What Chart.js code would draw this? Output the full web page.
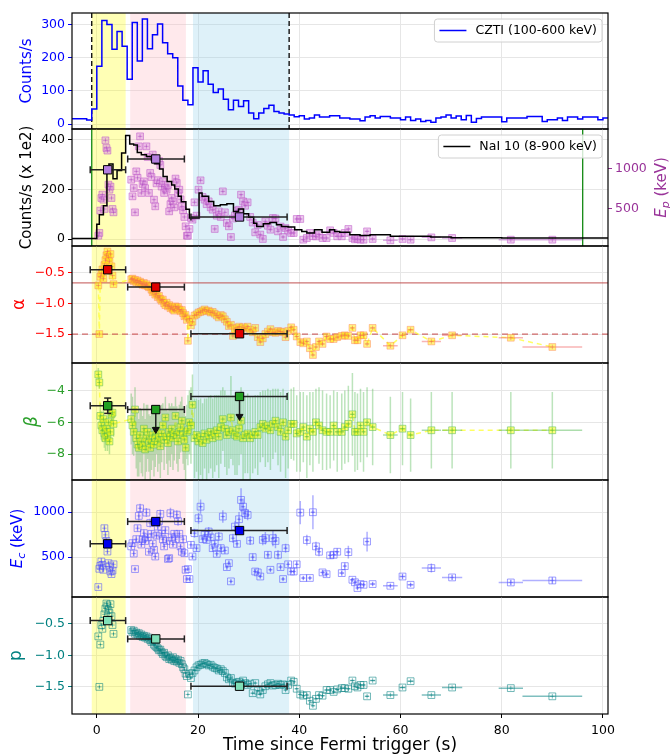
<!DOCTYPE html>
<html lang="en">
<head>
<meta charset="UTF-8">
<title>Spectral evolution panels</title>
<script src="https://cdn.jsdelivr.net/npm/chart.js@4.4.1/dist/chart.umd.min.js"></script>
<style>
  body { margin: 0; background: #fff; }
  #wrap { position: relative; width: 670px; height: 755px; overflow: hidden; background: #fff; }
  #wrap canvas { position: absolute; left: 0; }
</style>
</head>
<body>
<div id="wrap">
  <canvas id="pCzti"></canvas>
  <canvas id="pNai"></canvas>
  <canvas id="pAlpha"></canvas>
  <canvas id="pBeta"></canvas>
  <canvas id="pEc"></canvas>
  <canvas id="pP"></canvas>
</div>
<script>
// ---------------- data ----------------
const xTicks = [0, 20, 40, 60, 80, 100];
const xTitle = 'Time since Fermi trigger (s)';

// shaded intervals (s)
const regionStart = [-1.0, 6.6, 19.0];
const regionEnd = [5.7, 17.6, 38.0];

// CZTI light curve, 1 s bins starting at -5 s
const cztiFirstBin = -5;
const cztiBinWidth = 1;
const cztiCounts = [16, 16, 16, 12, 45, 174, 312, 300, 226, 279, 235, 135, 306, 190, 317, 227, 269, 302, 245, 212,
  200, 115, 72, 58, 170, 127, 161, 120, 95, 106, 75, 43, 72, 53, 70, 33, 16, 33, 47, 57,
  38, 33, 30, 27, 22, 25, 15, 18, 27, 21, 21, 25, 25, 18, 18, 15, 15, 10, 21, 25,
  18, 23, 23, 18, 18, 13, 21, 11, 15, 8, 11, 5, 18, 21, 27, 18, 24, 13, 26, 5,
  17, 21, 21, 21, 21, 7, 18, 18, 18, 18, 23, 23, 23, 8, 13, 13, 18, 11, 21, 21,
  15, 21, 21, 21, 13, 18];
const cztiTicks = [0, 100, 200, 300];
const cztiMarks = [-1, 38];

// NaI 10 light curve (x 1e2), bin starts
const naiStart = [-5, 0, 0.5, 1.3, 2.0, 2.4, 3.2, 4.0, 4.9, 5.7, 6.5, 7.3, 8.0, 8.8, 9.8, 10.8, 11.4, 12.4, 13.1, 13.9,
  14.8, 15.4, 16.1, 16.7, 17.6, 18.3, 20.2, 20.8, 22.1, 23.1, 24.4, 25.7, 27.0, 28.0, 29.0, 30.0, 31.0, 31.6, 32.9, 34.2,
  35.5, 36.5, 37.8, 39.1, 40.5, 41.5, 43.0, 44.5, 46.0, 47.0, 48.0, 50.0, 52.0, 54.0, 56.0, 58.0, 62.0, 66.0, 70.0, 80.0, 90.0];
const naiCounts = [2, 60, 98, 134, 265, 302, 243, 276, 346, 417, 383, 379, 348, 339, 332, 316, 303, 282, 252, 232,
  218, 201, 172, 150, 120, 85, 185, 172, 151, 134, 138, 142, 111, 121, 102, 88, 64, 51, 62, 67,
  58, 51, 48, 37, 30, 24, 37, 27, 37, 30, 27, 17, 14, 17, 17, 11, 11, 8, 5, 4, 4];
const naiEnd = 101;
const naiTicks = [0, 200, 400];
const naiMarks = [-1, 96];

// time-resolved spectral fits
const tMid = [
  0.3, 0.5, 0.7, 0.9, 1.1, 1.3, 1.5, 1.7, 1.9, 2.1, 2.3, 2.5, 2.7, 2.9, 3.1, 3.3,
  6.8, 7.05, 7.3, 7.55, 7.8, 8.05, 8.3, 8.55, 8.8, 9.05, 9.3, 9.55, 9.8, 10.05, 10.3, 10.55, 10.8, 11.05, 11.3, 11.55,
  11.8, 12.05, 12.3, 12.55, 12.8, 13.05, 13.3, 13.55, 13.8, 14.05, 14.3, 14.55, 14.8, 15.05, 15.3, 15.55, 15.8, 16.05, 16.3, 16.55,
  16.8, 17.05, 17.3, 17.55, 17.8,
  18.0, 18.3, 18.6, 18.9, 19.3, 19.7, 20.1, 20.5, 20.9, 21.3, 21.7, 22.1, 22.5, 22.9, 23.3, 23.7, 24.1, 24.5, 24.9, 25.3,
  25.7, 26.1, 26.5, 26.9, 27.3, 27.7, 28.1, 28.5, 28.9, 29.3, 29.8, 30.3, 30.8, 31.3, 31.8, 32.3, 32.8, 33.3, 33.8, 34.3,
  34.8, 35.3, 35.8, 36.3, 36.8, 37.3, 37.8, 38.4,
  38.9, 39.5, 40.2, 40.8, 41.5, 42.1, 42.7, 43.3, 43.9, 44.6, 45.4, 46.1, 46.8, 47.5, 48.4, 49.0, 49.7, 50.5, 51.0, 51.5,
  52.1, 52.7, 53.4, 54.5, 58.0, 60.4, 62.0, 66.1, 70.2, 81.8, 90.0];
const tErr = [
  0.1, 0.1, 0.1, 0.1, 0.1, 0.1, 0.1, 0.1, 0.1, 0.1, 0.1, 0.1, 0.1, 0.1, 0.1, 0.1,
  0.12, 0.12, 0.12, 0.12, 0.12, 0.12, 0.12, 0.12, 0.12, 0.12, 0.12, 0.12, 0.12, 0.12, 0.12, 0.12, 0.12, 0.12, 0.12, 0.12,
  0.12, 0.12, 0.12, 0.12, 0.12, 0.12, 0.12, 0.12, 0.12, 0.12, 0.12, 0.12, 0.12, 0.12, 0.12, 0.12, 0.12, 0.12, 0.12, 0.12,
  0.12, 0.12, 0.12, 0.12, 0.12,
  0.15, 0.15, 0.15, 0.2, 0.2, 0.2, 0.2, 0.2, 0.2, 0.2, 0.2, 0.2, 0.2, 0.2, 0.2, 0.2, 0.2, 0.2, 0.2, 0.2,
  0.2, 0.2, 0.2, 0.2, 0.2, 0.2, 0.2, 0.2, 0.2, 0.2, 0.25, 0.25, 0.25, 0.25, 0.25, 0.25, 0.25, 0.25, 0.25, 0.25,
  0.25, 0.25, 0.25, 0.25, 0.25, 0.25, 0.25, 0.3,
  0.25, 0.3, 0.3, 0.3, 0.3, 0.3, 0.3, 0.3, 0.3, 0.35, 0.4, 0.35, 0.35, 0.4, 0.45, 0.3, 0.35, 0.4, 0.25, 0.25,
  0.3, 0.3, 0.35, 0.5, 1.45, 0.6, 0.6, 1.9, 2.0, 2.4, 5.9];

const epVals = [
  166, 200, 480, 637, 680, 616, 500, 1358, 1262, 1230, 804, 741, 780, 637, 500, 458,
  866, 658, 762, 458, 970, 890, 1283, 1408, 700, 813, 845, 760, 1283, 1150, 700, 950, 900, 1180, 616, 533,
  820, 860, 1100, 1050, 780, 845, 700, 760, 741, 800, 470, 560, 637, 595, 520, 880, 825, 700, 741, 620,
  533, 483, 400, 283, 166,
  166, 250, 387, 366, 583, 416, 741, 858, 650, 616, 560, 595, 520, 491, 250, 416, 470, 400, 720, 458,
  325, 283, 150, 380, 420, 480, 491, 679, 595, 540, 583, 400, 330, 208, 300, 180, 125, 345, 290, 241,
  387, 381, 220, 280, 150, 262, 230, 200,
  200, 375, 375, 116, 137, 200, 160, 157, 180, 137, 137, 233, 200, 158, 158, 200, 250, 137, 120, 125,
  116, 116, 220, 125, 108, 125, 116, 145, 137, 116, 116];
const epTicks = [500, 1000];

const alphaVals = [
  -0.71, -1.50, -0.57, -0.52, -0.45, -0.60, -0.38, -0.30, -0.22, -0.16, -0.25, -0.32, -0.20, -0.40, -0.55, -0.69,
  -0.61, -0.60, -0.64, -0.62, -0.66, -0.63, -0.67, -0.65, -0.68, -0.70, -0.67, -0.71, -0.69, -0.72, -0.74, -0.73, -0.78, -0.82, -0.80, -0.86,
  -0.84, -0.90, -0.88, -0.93, -0.96, -0.94, -1.00, -1.03, -0.99, -1.05, -1.03, -1.08, -1.06, -1.10, -1.12, -1.05, -1.08, -1.06, -1.10, -1.13,
  -1.11, -1.16, -1.21, -1.19, -1.27,
  -1.61, -1.25, -1.36, -1.30, -1.20, -1.18, -1.15, -1.14, -1.12, -1.10, -1.13, -1.12, -1.15, -1.14, -1.17, -1.20, -1.23, -1.19, -1.21, -1.26,
  -1.30, -1.37, -1.35, -1.53, -1.42, -1.40, -1.38, -1.44, -1.39, -1.41, -1.38, -1.43, -1.47, -1.40, -1.55, -1.63, -1.57, -1.50, -1.46, -1.42,
  -1.47, -1.48, -1.45, -1.46, -1.47, -1.55, -1.45, -1.39,
  -1.43, -1.54, -1.63, -1.65, -1.62, -1.73, -1.84, -1.71, -1.62, -1.66, -1.54, -1.58, -1.58, -1.55, -1.53, -1.52, -1.53, -1.40, -1.60, -1.60,
  -1.52, -1.52, -1.66, -1.40, -1.69, -1.52, -1.43, -1.62, -1.52, -1.56, -1.71];
const alphaTicks = [-0.5, -1.0, -1.5];
const alphaRefs = [-0.67, -1.5];

const betaVals = [
  -3.0, -3.5, -5.6, -6.2, -6.5, -5.8, -6.7, -7.0, -6.4, -6.9, -6.0, -7.2, -6.6, -5.5, -5.4, -6.1,
  -5.8, -6.2, -6.6, -5.2, -7.0, -7.4, -7.6, -6.8, -7.2, -7.5, -6.4, -7.7, -7.0, -6.6, -7.3, -7.6, -7.1, -6.8, -7.4, -7.0,
  -6.5, -7.2, -6.9, -7.5, -6.7, -6.2, -7.1, -5.7, -6.9, -7.3, -6.6, -6.9, -6.4, -7.0, -6.7, -5.6, -6.8, -7.2, -6.6, -6.3,
  -5.9, -6.8, -7.1, -7.6, -6.6,
  -6.5, -6.0, -6.2, -4.9, -7.0, -6.8, -7.2, -6.9, -7.3, -6.7, -7.1, -6.8, -6.6, -7.0, -6.7, -6.5, -6.9, -6.3, -5.8, -6.4,
  -6.8, -6.6, -5.7, -6.5, -6.8, -6.9, -6.4, -5.9, -7.0, -6.8, -6.7, -7.0, -6.8, -6.6, -6.8, -6.3, -6.1, -6.4, -6.2, -6.5,
  -6.1, -5.9, -6.3, -6.6, -6.0, -6.9, -6.5, -6.1,
  -6.1, -6.7, -6.6, -6.3, -6.9, -6.4, -6.6, -6.0, -6.2, -6.5, -6.6, -6.6, -6.2, -6.6, -6.6, -6.3, -6.1, -5.5, -6.6, -6.6,
  -6.2, -6.6, -6.0, -6.3, -6.8, -6.4, -6.8, -6.5, -6.5, -6.5, -6.5];
const betaErr = [
  0.4, 0.4, 0.8, 0.9, 0.7, 0.8, 0.9, 0.8, 0.7, 0.9, 0.8, 0.8, 0.7, 0.6, 0.7, 0.8,
  1.6, 1.8, 1.5, 1.4, 1.9, 2.0, 1.8, 1.7, 2.0, 1.9, 1.6, 1.9, 2.1, 1.7, 1.8, 2.0, 1.9, 1.6, 2.0, 1.8,
  1.5, 1.9, 1.7, 2.0, 1.8, 1.4, 1.9, 1.3, 1.7, 2.0, 1.8, 1.9, 1.6, 2.0, 1.7, 1.2, 1.8, 1.9, 1.7, 1.6,
  1.5, 1.8, 1.9, 2.0, 1.7,
  2.2, 2.0, 2.4, 1.9, 2.5, 2.3, 2.6, 2.4, 2.5, 2.2, 2.6, 2.4, 2.3, 2.5, 2.4, 2.2, 2.6, 2.3, 2.0, 2.4,
  2.5, 2.3, 2.6, 2.2, 2.5, 2.4, 2.3, 2.1, 2.6, 2.4, 2.5, 2.6, 2.4, 2.3, 2.5, 2.2, 2.1, 2.4, 2.3, 2.5,
  2.2, 2.0, 2.4, 2.5, 2.1, 2.6, 2.4, 2.2,
  2.3, 2.4, 2.5, 2.2, 2.6, 2.3, 2.5, 2.1, 2.4, 2.5, 2.4, 2.3, 2.2, 2.5, 2.4, 2.3, 2.4, 2.6, 2.5, 2.4,
  2.3, 2.5, 2.2, 2.4, 2.4, 2.3, 2.3, 2.4, 2.4, 2.4, 2.4];
const betaTicks = [-4, -6, -8];

const ecVals = [
  167, 370, 403, 451, 414, 359, 822, 748, 681, 562, 433, 396, 340, 311, 350, 420,
  620, 656, 540, 367, 700, 822, 959, 1044, 640, 700, 767, 680, 996, 720, 560, 880, 760, 650, 581, 507,
  740, 840, 900, 981, 760, 700, 620, 800, 680, 480, 489, 989, 720, 640, 760, 700, 973, 900, 760, 620,
  560, 700, 544, 359, 256,
  367, 256, 637, 507, 767, 600, 933, 1062, 700, 748, 692, 785, 720, 600, 650, 537, 729, 600, 952, 574,
  389, 433, 230, 711, 840, 648, 922, 1137, 1062, 989, 970, 684, 500, 340, 330, 284, 692, 711, 526, 359,
  711, 680, 526, 389, 256, 600, 420, 340,
  340, 420, 996, 267, 690, 268, 1000, 620, 560, 330, 310, 520, 526, 560, 322, 400, 556, 248, 220, 156,
  200, 192, 673, 200, 181, 284, 192, 378, 274, 218, 240];
const ecErr = [
  20, 30, 30, 40, 30, 30, 40, 40, 30, 30, 30, 30, 30, 30, 30, 30,
  30, 40, 30, 20, 40, 40, 50, 50, 30, 40, 40, 30, 50, 40, 30, 50, 40, 30, 30, 30,
  40, 40, 50, 50, 40, 40, 30, 40, 40, 30, 30, 60, 40, 30, 40, 40, 50, 50, 40, 30,
  30, 40, 30, 20, 20,
  20, 20, 40, 30, 50, 40, 60, 80, 40, 40, 40, 50, 40, 40, 40, 30, 50, 40, 70, 40,
  30, 30, 20, 50, 60, 40, 80, 130, 90, 60, 60, 50, 40, 20, 20, 20, 60, 70, 40, 20,
  90, 80, 50, 30, 20, 50, 30, 20,
  20, 40, 130, 20, 60, 20, 190, 50, 50, 30, 30, 40, 40, 40, 30, 40, 70, 20, 20, 20,
  20, 20, 110, 20, 20, 30, 20, 50, 30, 30, 40];
const ecTicks = [500, 1000];

const pVals = [
  -0.70, -1.50, -0.83, -0.52, -0.58, -0.45, -0.35, -0.26, -0.18, -0.21, -0.28, -0.33, -0.19, -0.38, -0.52, -0.66,
  -0.60, -0.63, -0.61, -0.66, -0.64, -0.67, -0.65, -0.69, -0.67, -0.71, -0.69, -0.72, -0.70, -0.74, -0.72, -0.76, -0.79, -0.77, -0.83, -0.85,
  -0.87, -0.89, -0.92, -0.91, -0.95, -0.98, -0.96, -1.01, -1.03, -1.00, -1.06, -1.04, -1.07, -1.03, -1.09, -1.06, -1.10, -1.07, -1.12, -1.09,
  -1.14, -1.19, -1.22, -1.29, -1.33,
  -1.62, -1.30, -1.36, -1.28, -1.24, -1.19, -1.16, -1.15, -1.13, -1.12, -1.14, -1.16, -1.15, -1.18, -1.20, -1.21, -1.24, -1.22, -1.25, -1.28,
  -1.35, -1.38, -1.36, -1.44, -1.45, -1.43, -1.42, -1.46, -1.40, -1.44, -1.47, -1.45, -1.60, -1.44, -1.56, -1.62, -1.55, -1.49, -1.46, -1.44,
  -1.48, -1.47, -1.45, -1.47, -1.46, -1.55, -1.47, -1.40,
  -1.42, -1.53, -1.62, -1.64, -1.63, -1.72, -1.80, -1.69, -1.63, -1.64, -1.55, -1.55, -1.58, -1.54, -1.52, -1.52, -1.53, -1.40, -1.49, -1.51,
  -1.47, -1.47, -1.65, -1.40, -1.63, -1.51, -1.41, -1.63, -1.51, -1.52, -1.65];
const pTicks = [-0.5, -1.0, -1.5];

// time-integrated fits of the three shaded intervals
const sumT = [2.15, 11.65, 28.2];
const sumTLo = [-1.3, 6.1, 18.6];
const sumTHi = [5.7, 17.3, 37.6];
const epSum = [990, 1125, 400];
const alphaSum = [-0.456, -0.737, -1.495];
const betaSum = [-4.96, -5.2, -4.38];
const betaSumErr = [0.48, 1.25, 1.25];
const betaSumLimit = [false, true, true];
const ecSum = [648, 896, 796];
const pSum = [-0.45, -0.74, -1.49];

// ---------------- layout / style ----------------
Chart.defaults.font.family = '"DejaVu Sans", sans-serif';
Chart.defaults.font.size = 12.5;

const W = 670, H = 755, PAD = 14;
const PLOT_LEFT = 72, PLOT_RIGHT = 608;
const EDGES = [13, 129, 246, 363, 480, 597, 714];
const X_MIN = -4.9, X_MAX = 101;
const GRID = '#e6e6e6';
const SHADE = ['rgba(255,255,0,0.29)', 'rgba(255,182,193,0.3)', 'rgba(135,206,235,0.28)'];
const EP_COLOR = '#993399';
const MARK_R = 4.8, SUM_R = 5.9;
const font = (px, style) => (style ? style + ' ' : '') + px + 'px "DejaVu Sans"';

// ---------------- helpers ----------------
const pts = (xs, ys) => xs.map((x, i) => ({ x, y: ys[i] }));

function stepPts(starts, vals, end) {
  const d = pts(starts, vals);
  d.push({ x: end, y: vals[vals.length - 1] });
  return d;
}

function hSegs(xs, ys, lo, hi) {
  const d = [];
  xs.forEach((x, i) => { d.push({ x: lo[i], y: ys[i] }, { x: hi[i], y: ys[i] }, { x, y: null }); });
  return d;
}

function vSegs(xs, lo, hi) {
  const d = [];
  xs.forEach((x, i) => { d.push({ x, y: lo[i] }, { x, y: hi[i] }, { x, y: null }); });
  return d;
}

function fmtTick(v, dec) {
  const s = Math.abs(v).toFixed(dec);
  return v < 0 ? '\u2212' + s : s;
}

function seriesSets(ys, st, o) {
  o = o || {};
  const yAxisID = o.axis || 'y';
  const lo = tMid.map((t, i) => t - tErr[i]);
  const hi = tMid.map((t, i) => t + tErr[i]);
  const sets = [
    { data: pts(tMid, ys), yAxisID, pointStyle: 'rect', pointRadius: MARK_R, backgroundColor: st.fill, borderColor: st.edge, borderWidth: 1, order: 10 },
    { data: pts(tMid, ys), yAxisID, pointStyle: 'cross', pointRadius: 2.3, borderColor: st.bar, borderWidth: 1, order: 9 },
    { data: hSegs(tMid, ys, lo, hi), yAxisID, showLine: true, pointRadius: 0, borderColor: st.bar, borderWidth: 1.5, order: 11 }
  ];
  if (o.yErr) {
    sets.push({
      data: vSegs(tMid, ys.map((y, i) => y - o.yErr[i]), ys.map((y, i) => y + o.yErr[i])),
      yAxisID, showLine: true, pointRadius: 0, borderColor: o.yErrColor || st.bar, borderWidth: 1.5, order: 12
    });
  }
  if (o.link) {
    sets.push({ data: pts(tMid, ys), yAxisID, showLine: true, pointRadius: 0, borderColor: 'rgba(255,255,60,0.8)', borderWidth: 1.5, borderDash: [5, 4], order: 13 });
  }
  return sets;
}

function summarySets(ys, fill, axis) {
  const yAxisID = axis || 'y';
  return [
    { data: hSegs(sumT, ys, sumTLo, sumTHi), yAxisID, showLine: true, pointRadius: 0, borderColor: '#222', borderWidth: 1.5, order: 3 },
    { data: pts(sumTLo, ys).concat(pts(sumTHi, ys)), yAxisID, pointStyle: 'line', pointRotation: 90, pointRadius: 3.5, borderColor: '#222', borderWidth: 1.5, order: 2 },
    { data: pts(sumT, ys), yAxisID, pointStyle: 'rect', pointRadius: SUM_R, backgroundColor: fill, borderColor: '#000', borderWidth: 1, order: 0 }
  ];
}

function betaSummaryExtras() {
  const bx = [], blo = [], bhi = [], ax = [], atop = [], aend = [];
  sumT.forEach((t, i) => {
    if (betaSumLimit[i]) { ax.push(t); atop.push(betaSum[i]); aend.push(betaSum[i] - betaSumErr[i]); }
    else { bx.push(t); blo.push(betaSum[i] - betaSumErr[i]); bhi.push(betaSum[i] + betaSumErr[i]); }
  });
  return [
    { data: vSegs(bx, blo, bhi), showLine: true, pointRadius: 0, borderColor: '#222', borderWidth: 1.5, order: 3 },
    { data: pts(bx, blo).concat(pts(bx, bhi)), pointStyle: 'line', pointRotation: 0, pointRadius: 3.5, borderColor: '#222', borderWidth: 1.5, order: 2 },
    { data: vSegs(ax, atop, aend), showLine: true, pointRadius: 0, borderColor: '#222', borderWidth: 1.5, order: 3 },
    { data: pts(ax, aend), pointStyle: 'triangle', pointRotation: 180, pointRadius: 4, backgroundColor: '#111', borderColor: '#111', borderWidth: 1, order: 1 }
  ];
}

function drawVText(ctx, parts, cx, cy) {
  ctx.save();
  ctx.translate(cx, cy);
  ctx.rotate(-Math.PI / 2);
  ctx.textBaseline = 'middle';
  ctx.textAlign = 'left';
  let w = 0;
  const widths = parts.map(p => { ctx.font = p.font; const m = ctx.measureText(p.text).width; w += m; return m; });
  let x = -w / 2;
  parts.forEach((p, i) => {
    ctx.font = p.font;
    ctx.fillStyle = p.color;
    ctx.fillText(p.text, x, p.dy || 0);
    x += widths[i];
  });
  ctx.restore();
}

function drawLegend(ctx, a, lg) {
  ctx.font = font(12.5);
  const tw = ctx.measureText(lg.text).width;
  const w = tw + 46, h = 23;
  const x0 = a.right - 6 - w, y0 = a.top + 6;
  ctx.beginPath();
  if (ctx.roundRect) ctx.roundRect(x0, y0, w, h, 3); else ctx.rect(x0, y0, w, h);
  ctx.fillStyle = 'rgba(255,255,255,0.8)';
  ctx.fill();
  ctx.strokeStyle = '#d0d0d0';
  ctx.lineWidth = 1;
  ctx.stroke();
  ctx.strokeStyle = lg.color;
  ctx.lineWidth = 1.5;
  ctx.beginPath();
  ctx.moveTo(x0 + 5, y0 + h / 2);
  ctx.lineTo(x0 + 32, y0 + h / 2);
  ctx.stroke();
  ctx.fillStyle = '#000';
  ctx.textBaseline = 'middle';
  ctx.textAlign = 'left';
  ctx.fillText(lg.text, x0 + 41, y0 + h / 2 + 0.5);
}

function decorPlugin(cfg) {
  return {
    id: 'decor',
    beforeDatasetsDraw(chart) {
      const { ctx, chartArea: a, scales } = chart;
      const x = scales.x;
      ctx.save();
      ctx.beginPath();
      ctx.rect(a.left, a.top, a.width, a.height);
      ctx.clip();
      regionStart.forEach((s, i) => {
        const x0 = x.getPixelForValue(s), x1 = x.getPixelForValue(regionEnd[i]);
        ctx.fillStyle = SHADE[i];
        ctx.fillRect(x0, a.top, x1 - x0, a.height);
      });
      (cfg.vlines || []).forEach(l => {
        const px = x.getPixelForValue(l.at);
        ctx.strokeStyle = l.color; ctx.lineWidth = l.width; ctx.setLineDash(l.dash || []);
        ctx.beginPath(); ctx.moveTo(px, a.top); ctx.lineTo(px, a.bottom); ctx.stroke();
      });
      (cfg.hlines || []).forEach(l => {
        const py = scales.y.getPixelForValue(l.at);
        ctx.strokeStyle = l.color; ctx.lineWidth = l.width; ctx.setLineDash(l.dash || []);
        ctx.beginPath(); ctx.moveTo(a.left, py); ctx.lineTo(a.right, py); ctx.stroke();
      });
      ctx.restore();
    },
    afterDraw(chart) {
      const { ctx, chartArea: a } = chart;
      ctx.save();
      ctx.strokeStyle = '#000';
      ctx.lineWidth = 1.2;
      ctx.setLineDash([]);
      ctx.strokeRect(a.left, a.top, a.width, a.height);
      if (cfg.legend) drawLegend(ctx, a, cfg.legend);
      const cy = (a.top + a.bottom) / 2;
      drawVText(ctx, cfg.title, cfg.titleX, cy);
      if (cfg.title2) drawVText(ctx, cfg.title2, cfg.title2X, cy);
      ctx.restore();
    }
  };
}

function makeYScale(c, position, width) {
  return {
    type: 'linear', position, min: c.min, max: c.max,
    afterBuildTicks: s => { s.ticks = c.ticks.map(v => ({ value: v })); },
    afterFit: s => { s.width = width; },
    grid: { drawOnChartArea: position === 'left', color: GRID, lineWidth: 1, tickLength: 4, tickColor: c.color, tickWidth: 1 },
    border: { display: false },
    ticks: { color: c.color, padding: 3, callback: v => fmtTick(v, c.dec) }
  };
}

function makePanel(id, idx, cfg) {
  const last = idx === 5;
  const top = EDGES[idx] - PAD;
  const bottom = last ? H : EDGES[idx + 1] + PAD;
  const cv = document.getElementById(id);
  cv.width = W;
  cv.height = bottom - top;
  cv.style.top = top + 'px';
  const scales = {
    x: {
      type: 'linear', min: X_MIN, max: X_MAX,
      afterBuildTicks: s => { s.ticks = xTicks.map(v => ({ value: v })); },
      afterFit: s => { s.height = last ? H - EDGES[6] : 0; },
      grid: { color: GRID, drawTicks: last, tickLength: 4, tickColor: '#000' },
      border: { display: false },
      ticks: { display: last, color: '#000', padding: 5, maxRotation: 0, autoSkip: false },
      title: { display: last, text: xTitle, color: '#000', font: { size: 17 }, padding: { top: 0, bottom: -1 } }
    },
    y: makeYScale(cfg.y, 'left', PLOT_LEFT)
  };
  if (cfg.y2) scales.y2 = makeYScale(cfg.y2, 'right', W - PLOT_RIGHT);
  return new Chart(cv, {
    type: 'scatter',
    data: { datasets: cfg.datasets },
    options: {
      responsive: false, animation: false, events: [],
      layout: { padding: { top: PAD, bottom: last ? 0 : PAD, left: 0, right: cfg.y2 ? 0 : W - PLOT_RIGHT } },
      scales,
      plugins: { legend: { display: false }, tooltip: { enabled: false } }
    },
    plugins: [decorPlugin(cfg)]
  });
}

// ---------------- panels ----------------
const cztiStarts = cztiCounts.map((_, i) => cztiFirstBin + i * cztiBinWidth);
makePanel('pCzti', 0, {
  y: { min: -15, max: 335, ticks: cztiTicks, dec: 0, color: '#0000ff' },
  title: [{ text: 'Counts/s', font: font(15), color: '#0000ff' }], titleX: 27,
  legend: { text: 'CZTI (100-600 keV)', color: '#0000ff' },
  vlines: cztiMarks.map(at => ({ at, color: '#000', width: 1.3, dash: [5, 3] })),
  datasets: [
    { data: stepPts(cztiStarts, cztiCounts, cztiStarts[cztiStarts.length - 1] + cztiBinWidth), showLine: true, stepped: true, pointRadius: 0, borderColor: '#0000ff', borderWidth: 1.5 }
  ]
});

makePanel('pNai', 1, {
  y: { min: -28, max: 443, ticks: naiTicks, dec: 0, color: '#000' },
  y2: { min: 37, max: 1500, ticks: epTicks, dec: 0, color: EP_COLOR },
  title: [{ text: 'Counts/s (x 1e2)', font: font(15), color: '#000' }], titleX: 27,
  title2: [
    { text: 'E', font: font(15, 'italic'), color: EP_COLOR },
    { text: 'p', font: font(11, 'italic'), color: EP_COLOR, dy: 4 },
    { text: ' (keV)', font: font(15), color: EP_COLOR }
  ], title2X: 662,
  legend: { text: 'NaI 10 (8-900 keV)', color: '#000' },
  vlines: naiMarks.map(at => ({ at, color: '#118811', width: 1.3 })),
  datasets: [
    { data: stepPts(naiStart, naiCounts, naiEnd), showLine: true, stepped: true, pointRadius: 0, borderColor: '#000', borderWidth: 1.5, order: 5 },
    ...seriesSets(epVals, { fill: 'rgba(221,150,221,0.5)', edge: 'rgba(190,90,200,0.55)', bar: 'rgba(170,70,190,0.45)' }, { axis: 'y2' }),
    ...summarySets(epSum, '#b57ee0', 'y2')
  ]
});

makePanel('pAlpha', 2, {
  y: { min: -1.97, max: -0.07, ticks: alphaTicks, dec: 1, color: '#ff0000' },
  title: [{ text: '\u03b1', font: font(17), color: '#ff0000' }], titleX: 20,
  hlines: [
    { at: alphaRefs[0], color: 'rgba(190,70,70,0.75)', width: 1.3 },
    { at: alphaRefs[1], color: 'rgba(200,70,70,0.8)', width: 1.3, dash: [6, 4] }
  ],
  datasets: [
    ...seriesSets(alphaVals, { fill: 'rgba(255,235,0,0.5)', edge: 'rgba(255,120,80,0.42)', bar: 'rgba(240,90,90,0.45)' }, { link: true }),
    ...summarySets(alphaSum, '#dd0000')
  ]
});

makePanel('pBeta', 3, {
  y: { min: -9.62, max: -2.28, ticks: betaTicks, dec: 0, color: '#2ca02c' },
  title: [{ text: '\u03b2', font: font(17, 'italic'), color: '#2ca02c' }], titleX: 33,
  datasets: [
    ...seriesSets(betaVals, { fill: 'rgba(255,255,0,0.5)', edge: 'rgba(90,190,90,0.55)', bar: 'rgba(70,180,70,0.45)' },
      { link: true, yErr: betaErr, yErrColor: 'rgba(70,180,70,0.36)' }),
    ...summarySets(betaSum, '#22a022'),
    ...betaSummaryExtras()
  ]
});

makePanel('pEc', 4, {
  y: { min: 56, max: 1359, ticks: ecTicks, dec: 0, color: '#0000ff' },
  title: [
    { text: 'E', font: font(15, 'italic'), color: '#0000ff' },
    { text: 'c', font: font(11, 'italic'), color: '#0000ff', dy: 4 },
    { text: ' (keV)', font: font(15), color: '#0000ff' }
  ], titleX: 18,
  datasets: [
    ...seriesSets(ecVals, { fill: 'rgba(255,255,255,0)', edge: 'rgba(80,80,255,0.55)', bar: 'rgba(80,80,255,0.45)' }, { yErr: ecErr }),
    ...summarySets(ecSum, '#0000ee')
  ]
});

makePanel('pP', 5, {
  y: { min: -1.93, max: -0.076, ticks: pTicks, dec: 1, color: '#008080' },
  title: [{ text: 'p', font: font(17), color: '#008080' }], titleX: 17,
  datasets: [
    ...seriesSets(pVals, { fill: 'rgba(255,255,255,0)', edge: 'rgba(0,128,128,0.55)', bar: 'rgba(0,128,128,0.5)' }),
    ...summarySets(pSum, '#80e0b8')
  ]
});
</script>
</body>
</html>
